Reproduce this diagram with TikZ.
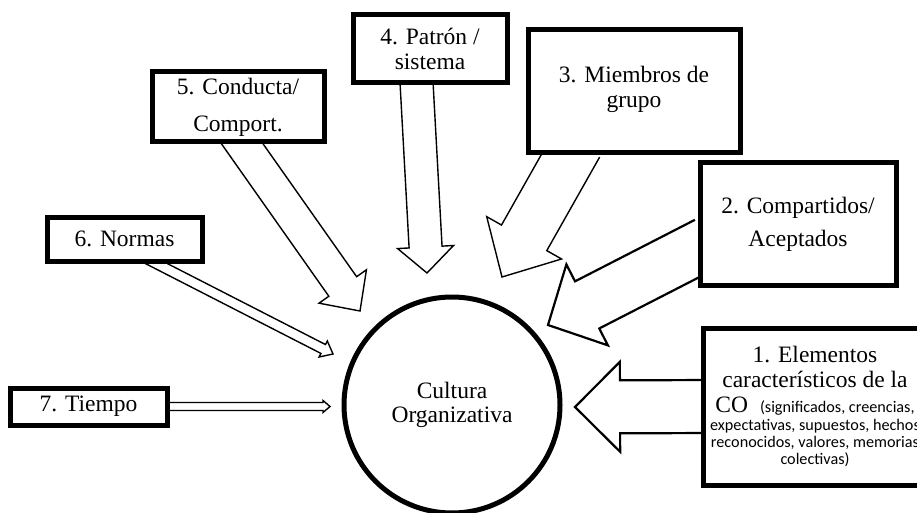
\documentclass[tikz,border=0pt]{standalone}
\usepackage{fontspec}
\setmainfont{Liberation Serif}
\newfontfamily\calibfont{Carlito}
\usetikzlibrary{calc}

% block arrow: [style] {base}{tip}{half shaft width}{half head width}{head length}
\newcommand\blockarrow[6][]{%
  \path ($(#3)!#6!(#2)$) coordinate (ba-h);
  \draw[arrowline,#1] ($(#2)!#4!90:(#3)$) -- ($(ba-h)!#4!90:(#3)$)
    -- ($(ba-h)!#5!90:(#3)$) -- (#3) -- ($(ba-h)!#5!-90:(#3)$)
    -- ($(ba-h)!#4!-90:(#3)$) -- ($(#2)!#4!-90:(#3)$);
}
\newcommand\smallcal{\calibfont\fontsize{16.2}{17}\selectfont}

\tikzset{
  box/.style={draw, line width=5pt, fill=white, align=center, inner sep=0pt,
    font=\fontsize{23.5}{25}\selectfont},
  arrowline/.style={line width=1.4pt, fill=white, line join=miter},
  heavyline/.style={line width=2.2pt},
}

\begin{document}
\begin{tikzpicture}[x=1pt,y=-1pt]
  \useasboundingbox (0,0) rectangle (917,513);
  \clip (0,0) rectangle (917,513);
  \fill[white] (0,0) rectangle (917,513);

  % arrow end points
  \coordinate (s1) at (712,406.5);  \coordinate (t1) at (575,407);
  \coordinate (s2) at (707,243.4);  \coordinate (t2) at (548,325);
  \coordinate (s3) at (577,144.3);  \coordinate (t3) at (502,277);
  \coordinate (s4) at (416,73);     \coordinate (t4) at (427,273);
  \coordinate (s5) at (235.2,133.8);\coordinate (t5) at (360,311);
  \coordinate (s6) at (142.6,256.5);\coordinate (t6) at (333,354);
  \coordinate (s7) at (160,406.5);  \coordinate (t7) at (330,406.5);

  % block arrows pointing at the central circle
  \blockarrow[heavyline]{s1}{t1}{26.5pt}{45pt}{45pt}
  \blockarrow[heavyline]{s2}{t2}{26.5pt}{45.5pt}{44pt}
  \blockarrow{s3}{t3}{26pt}{43pt}{45pt}
  \blockarrow{s4}{t4}{16.5pt}{28pt}{26pt}
  \blockarrow{s5}{t5}{17pt}{29pt}{30pt}
  \blockarrow{s6}{t6}{5pt}{9pt}{11pt}
  \blockarrow{s7}{t7}{4pt}{6pt}{7pt}

  % boxes
  \node[box, minimum width=157pt, minimum height=37pt] (b7) at (88.5,406.5) {7. Tiempo};
  \node[box, minimum width=155pt, minimum height=44pt] (b6) at (124.5,239) {6. Normas};
  \node[box, minimum width=172pt, minimum height=70pt,
        font=\fontsize{23.5}{37}\selectfont] (b5) at (238,107) {5. Conducta/\\Comport.};
  \node[box, minimum width=154pt, minimum height=68pt] (b4) at (430,49) {4. Patrón /\\sistema};
  \node[box, minimum width=212pt, minimum height=123pt] (b3) at (634,91.5)
    {\rule{0pt}{0pt}\\[-12pt]3. Miembros de\\grupo};
  \node[box, minimum width=196pt, minimum height=122pt,
        font=\fontsize{23.5}{33}\selectfont] (b2) at (798,224) {2. Compartidos/\\Aceptados};
  \node[box, minimum width=224pt, minimum height=157pt] (b1) at (815,406.5)
    {1. Elementos\\característicos de la\\CO\hspace{12pt}{\smallcal (significados, creencias,}\\[-7pt]
     {\smallcal expectativas, supuestos, hechos}\\[-8pt]
     {\smallcal reconocidos, valores, memorias}\\[-8pt]
     {\smallcal colectivas)}};

  % central circle
  \node[circle, draw, line width=5pt, fill=white, minimum size=216pt, align=center,
        inner sep=0pt, font=\fontsize{23.5}{24}\selectfont] (co) at (452,405)
    {Cultura\\Organizativa};
\end{tikzpicture}
\end{document}
